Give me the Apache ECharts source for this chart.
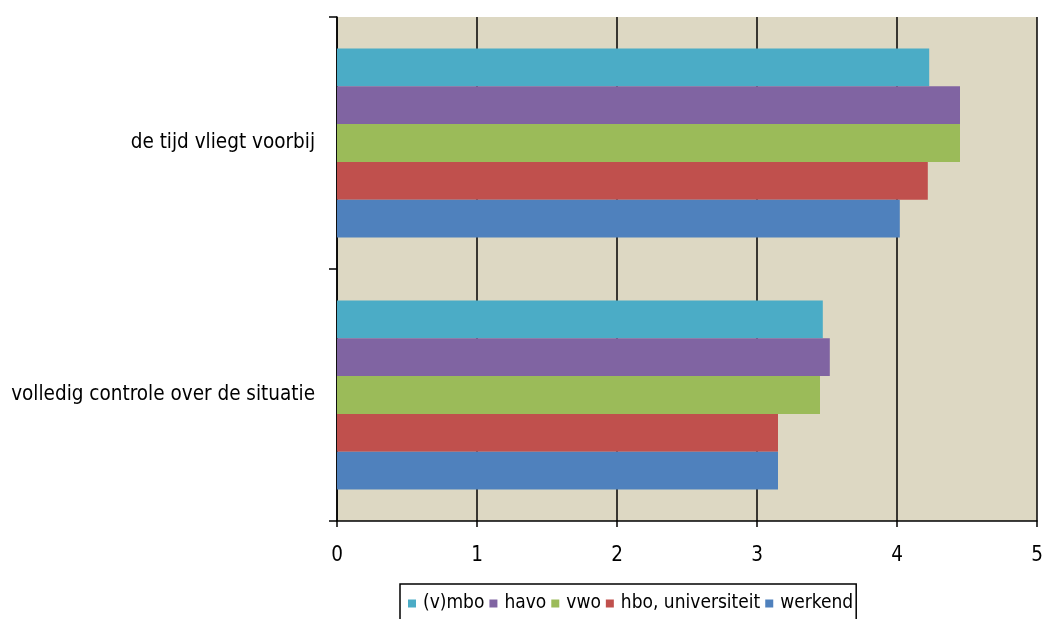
<!DOCTYPE html>
<html>
<head>
<meta charset="utf-8">
<script src="https://cdn.jsdelivr.net/npm/echarts@6/dist/echarts.min.js"></script>
<style>html,body{margin:0;padding:0;background:#fff}#c{width:1046px;height:619px}</style>
</head>
<body>
<div id="c"></div>
<script>
const categories = ["de tijd vliegt voorbij", "volledig controle over de situatie"];
const seriesNames = ["(v)mbo", "havo", "vwo", "hbo, universiteit", "werkend"];
const vmbo = [4.23, 3.47];
const havo = [4.45, 3.52];
const vwo = [4.45, 3.45];
const hbo = [4.22, 3.15];
const werkend = [4.02, 3.15];
const xTicks = [0, 1, 2, 3, 4, 5];

const values = [vmbo, havo, vwo, hbo, werkend];
const colors = ["#4BACC6", "#8064A2", "#9BBB59", "#C0504D", "#4F81BD"];
const FONT = "DejaVu Sans Condensed";

const chart = echarts.init(document.getElementById('c'), null, {renderer: 'canvas'});
chart.setOption({
  animation: false,
  textStyle: {fontFamily: FONT},
  grid: {left: 337, right: 9, top: 17, bottom: 98, show: true, backgroundColor: '#DDD8C3', borderWidth: 0},
  legend: {
    data: seriesNames,
    left: 400, top: 584,
    icon: 'rect', itemWidth: 8, itemHeight: 8, itemGap: 5,
    borderColor: '#000', borderWidth: 1.5,
    padding: [10, 3, 30, 8],
    textStyle: {fontFamily: FONT, fontSize: 19, color: '#000', padding: [3, 0, 0, 2]}
  },
  xAxis: {
    type: 'value', min: xTicks[0], max: xTicks[xTicks.length - 1], interval: 1,
    axisLine: {show: true, lineStyle: {color: '#000', width: 1.5}},
    axisTick: {show: true, length: 6, lineStyle: {color: '#000', width: 1.5}},
    axisLabel: {fontFamily: FONT, fontSize: 20.5, color: '#000', margin: 24},
    splitLine: {show: true, lineStyle: {color: '#000', width: 1.5}}
  },
  yAxis: {
    type: 'category', data: categories, inverse: true,
    axisLine: {show: true, lineStyle: {color: '#000', width: 1.5}},
    axisTick: {show: true, length: 8, lineStyle: {color: '#000', width: 1.5}},
    axisLabel: {fontFamily: FONT, fontSize: 20.5, color: '#000', margin: 22},
    splitLine: {show: false}
  },
  series: seriesNames.map((n, i) => ({
    name: n, type: 'bar', data: values[i],
    itemStyle: {color: colors[i]},
    barGap: '0%', barCategoryGap: '25%'
  }))
});
</script>
</body>
</html>
